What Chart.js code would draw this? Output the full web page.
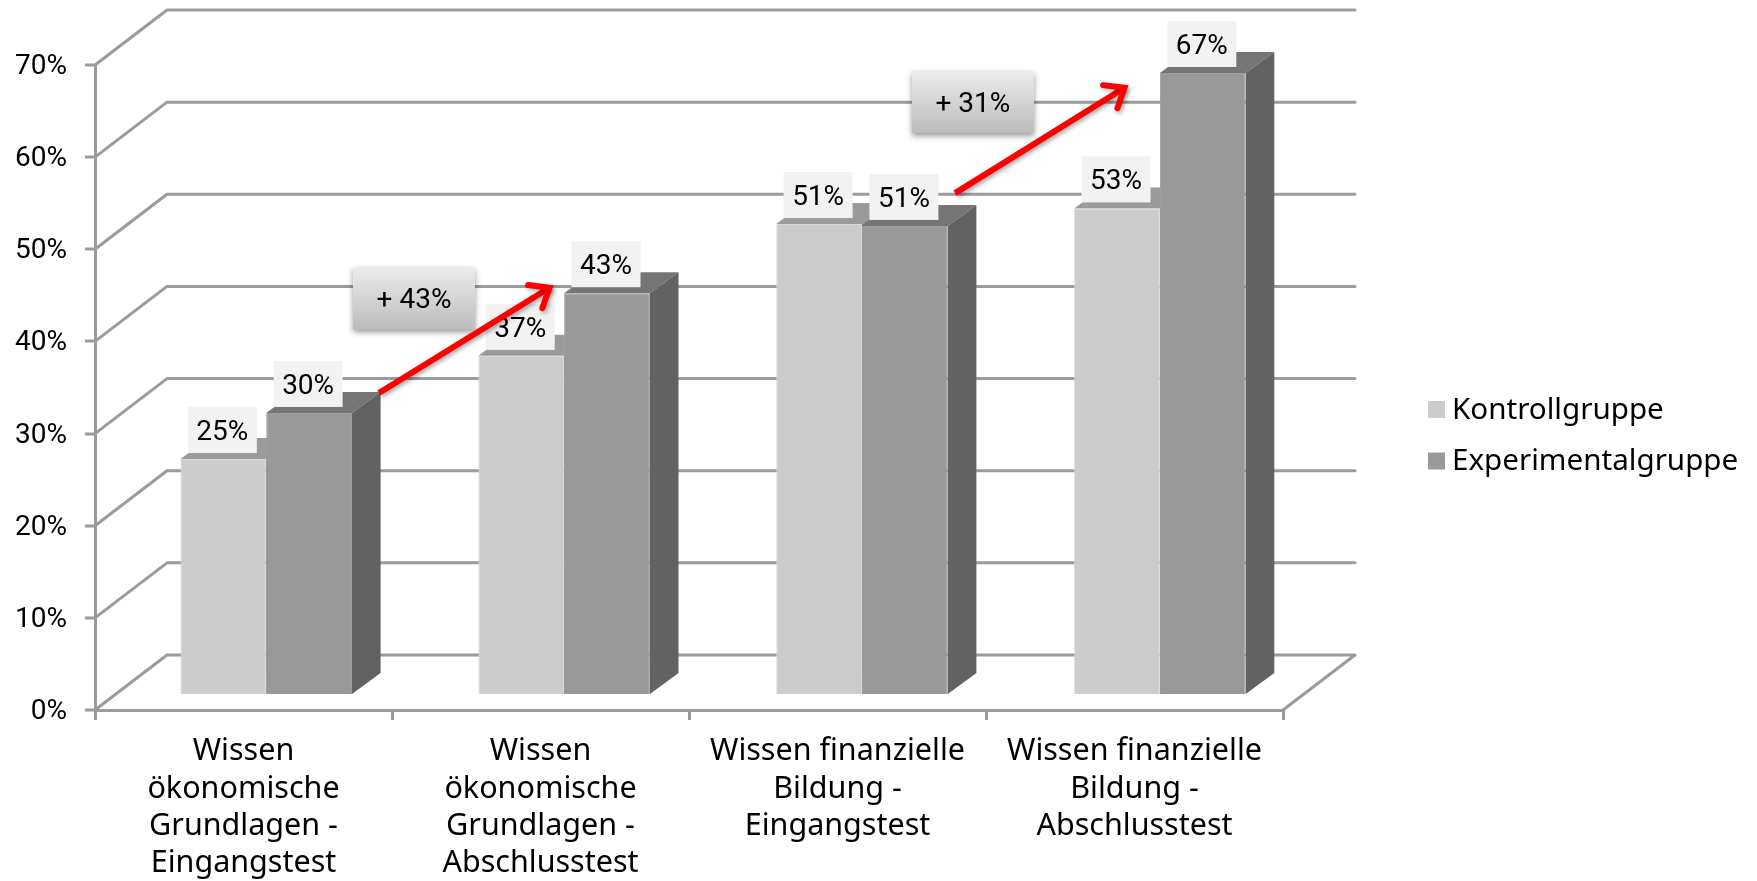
<!DOCTYPE html>
<html>
<head>
<meta charset="utf-8">
<style>html,body{margin:0;padding:0;background:#fff}canvas{display:block}</style>
<script src="https://cdn.jsdelivr.net/npm/chart.js@4"></script>
</head>
<body>
<canvas id="c" width="1757" height="881"></canvas>
<script>
const categories = [
  ['Wissen','ökonomische','Grundlagen -','Eingangstest'],
  ['Wissen','ökonomische','Grundlagen -','Abschlusstest'],
  ['Wissen finanzielle','Bildung -','Eingangstest'],
  ['Wissen finanzielle','Bildung -','Abschlusstest']
];
const controlValues = [25.5, 36.7, 51.0, 52.7];
const experimentalValues = [30.5, 43.5, 50.8, 67.4];
const controlLabels = ['25%','37%','51%','53%'];
const experimentalLabels = ['30%','43%','51%','67%'];
const seriesNames = ['Kontrollgruppe','Experimentalgruppe'];
const yMax = 70, yStep = 10;
// callouts, in axis units (category index, percent)
const arrows = [
  {from:[0.456,34.4], to:[1.039,46.0]},
  {from:[2.396,56.1], to:[2.975,67.7]}
];
const badges = [
  {text:'+ 43%', at:[0.574,44.66]},
  {text:'+ 31%', at:[2.456,65.99]}
];

const FONT = '"Noto Sans"';
const NUMFONT = 'Roboto';
const GRID = '#9b9b9b';
const BACK = {dx:72, dy:-55};      // depth of the chart's back wall
const PLANE = {dx:22, sx:1.003, dy:-16};   // plane of the bars' front faces
const BAR = {dx:28.5, dy:-21};     // depth of the bars
const faces = [{top:'#9a9a9a', side:'#808080'},{top:'#757575', side:'#626262'}];

function poly(ctx, pts, fill){
  ctx.beginPath();
  pts.forEach((p,i)=> i?ctx.lineTo(p[0],p[1]):ctx.moveTo(p[0],p[1]));
  ctx.closePath(); ctx.fillStyle=fill; ctx.fill();
}

const scene = {
  id:'scene',
  beforeDatasetsDraw(chart){
    const {ctx, chartArea:a, scales:{y}} = chart;
    ctx.save();
    ctx.strokeStyle = GRID; ctx.lineWidth = 3; ctx.lineJoin='round'; ctx.lineCap='round';
    for (let v=0; v<=yMax; v+=yStep){
      const py = y.getPixelForValue(v);
      ctx.beginPath();
      ctx.moveTo(a.left, py);
      ctx.lineTo(a.left+BACK.dx, py+BACK.dy);
      ctx.lineTo(a.right+BACK.dx, py+BACK.dy);
      if (v===0) ctx.lineTo(a.right, py);
      ctx.stroke();
    }
    ctx.translate(PLANE.dx, PLANE.dy);
    ctx.scale(PLANE.sx,1);
    chart.data.datasets.forEach((d,i)=>{
      chart.getDatasetMeta(i).data.forEach(b=>{
        const l=b.x-b.width/2, r=b.x+b.width/2, t=b.y, bt=b.base;
        poly(ctx,[[l,t],[r,t],[r+BAR.dx,t+BAR.dy],[l+BAR.dx,t+BAR.dy]],faces[i].top);
        poly(ctx,[[r,t],[r+BAR.dx,t+BAR.dy],[r+BAR.dx,bt+BAR.dy],[r,bt]],faces[i].side);
      });
    });
    ctx.restore();
    ctx.save();
    ctx.translate(PLANE.dx, PLANE.dy);
    ctx.scale(PLANE.sx,1);
  },
  afterDatasetsDraw(chart){
    const {ctx, scales:{x,y}} = chart;
    ctx.restore();
    ctx.save();
    // value labels
    const sets=[controlLabels,experimentalLabels];
    ctx.textAlign='center'; ctx.textBaseline='middle';
    ctx.font='28px '+NUMFONT;
    chart.data.datasets.forEach((d,i)=>{
      chart.getDatasetMeta(i).data.forEach((b,j)=>{
        const cx=b.x*PLANE.sx+PLANE.dx-1, bottom=b.y+PLANE.dy-6;
        ctx.fillStyle='#f2f2f2'; ctx.fillRect(cx-34.5,bottom-46,69,46);
        ctx.fillStyle='#000'; ctx.fillText(sets[i][j],cx,bottom-20);
      });
    });
    // badges
    badges.forEach(n=>{
      const cx=x.getPixelForValue(n.at[0]), cy=y.getPixelForValue(n.at[1]);
      const w=122,h=62;
      ctx.save();
      ctx.shadowColor='rgba(0,0,0,.4)'; ctx.shadowBlur=6; ctx.shadowOffsetY=3;
      const g=ctx.createLinearGradient(0,cy-h/2,0,cy+h/2);
      g.addColorStop(0,'#ececec'); g.addColorStop(1,'#bcbcbc');
      ctx.fillStyle=g; ctx.fillRect(cx-w/2,cy-h/2,w,h);
      ctx.restore();
      ctx.fillStyle='#000'; ctx.fillText(n.text,cx,cy+3);
    });
    // arrows
    arrows.forEach(a=>{
      const x0=x.getPixelForValue(a.from[0]), y0=y.getPixelForValue(a.from[1]);
      const x1=x.getPixelForValue(a.to[0]), y1=y.getPixelForValue(a.to[1]);
      const ang=Math.atan2(y1-y0,x1-x0), L=24, sp=0.6;
      ctx.save();
      ctx.shadowColor='rgba(0,0,0,.35)'; ctx.shadowBlur=4; ctx.shadowOffsetX=2; ctx.shadowOffsetY=2;
      ctx.strokeStyle='#ff0000'; ctx.lineWidth=6; ctx.lineJoin='miter';
      ctx.beginPath();
      ctx.moveTo(x0,y0);
      ctx.lineTo(x1-3*Math.cos(ang),y1-3*Math.sin(ang));
      ctx.stroke();
      ctx.lineCap='round';
      ctx.beginPath();
      ctx.moveTo(x1-L*Math.cos(ang-sp),y1-L*Math.sin(ang-sp));
      ctx.lineTo(x1-3*Math.cos(ang),y1-3*Math.sin(ang));
      ctx.lineTo(x1-L*Math.cos(ang+sp),y1-L*Math.sin(ang+sp));
      ctx.stroke();
      ctx.restore();
    });
    // legend
    ctx.textAlign='left';
    ctx.font='29.6px '+FONT;
    chart.data.datasets.forEach((d,i)=>{
      const ly=409.5+51.5*i;
      ctx.fillStyle=d.backgroundColor; ctx.fillRect(1428,ly-8.5,17,17);
      ctx.fillStyle='#000'; ctx.fillText(d.label,1452,ly+1);
    });
    ctx.restore();
  }
};

new Chart(document.getElementById('c'),{
  type:'bar',
  data:{
    labels:categories,
    datasets:[
      {label:seriesNames[0],data:controlValues,backgroundColor:'#cccccc',borderColor:'#d9d9d9',borderWidth:1},
      {label:seriesNames[1],data:experimentalValues,backgroundColor:'#999999',borderColor:'#9e9e9e',borderWidth:1}
    ]
  },
  plugins:[scene],
  options:{
    responsive:false,
    animation:false,
    devicePixelRatio:1,
    layout:{padding:{top:65,right:474,left:0,bottom:0}},
    plugins:{legend:{display:false},tooltip:{enabled:false},title:{display:false}},
    datasets:{bar:{categoryPercentage:0.576,barPercentage:1}},
    scales:{
      x:{
        grid:{color:GRID,lineWidth:3,drawOnChartArea:false,tickLength:10},
        border:{color:GRID,width:3},
        ticks:{color:'#000',font:{family:FONT,size:30.5,lineHeight:1.225},padding:13,maxRotation:0,autoSkip:false},
        afterFit(s){s.height=171;}
      },
      y:{
        min:0,max:yMax,
        grid:{color:GRID,lineWidth:0,tickColor:GRID,tickWidth:3,drawOnChartArea:false,tickLength:10},
        border:{color:GRID,width:3},
        ticks:{color:'#000',stepSize:yStep,font:{family:NUMFONT,size:28},padding:18,labelOffset:2,callback:v=>v+'%'},
        afterFit(s){s.width=95;}
      }
    }
  }
});
</script>
</body>
</html>
